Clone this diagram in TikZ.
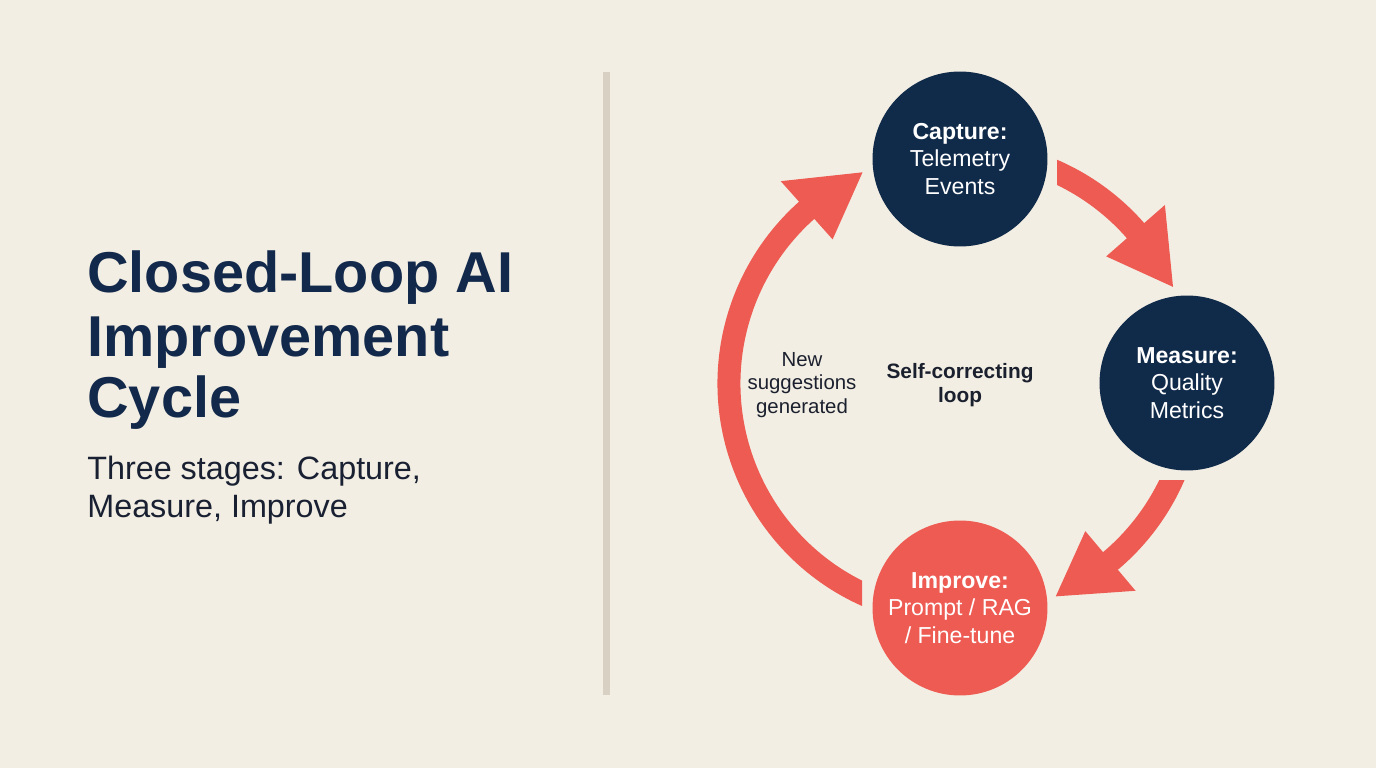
\documentclass[tikz,border=0pt]{standalone}
\usepackage{fontspec}
\setmainfont{Liberation Sans}
\usetikzlibrary{calc}
\definecolor{bgc}{RGB}{243,238,227}
\definecolor{navy}{RGB}{16,42,74}
\definecolor{titlec}{RGB}{19,41,75}
\definecolor{subc}{RGB}{24,32,50}
\definecolor{coral}{RGB}{237,91,83}
\definecolor{divc}{RGB}{216,208,194}
\definecolor{labc}{RGB}{27,32,46}
\tikzset{
  stage/.style={circle, minimum size=3.5cm, inner sep=0pt, align=center, text=white,
    font=\fontsize{13.15pt}{15.6pt}\selectfont},
  navystage/.style={stage, fill=navy},
  coralstage/.style={stage, fill=coral},
  band/.style={draw=coral, line width=0.46cm, line cap=butt},
  head/.style={fill=coral},
  titleline/.style={anchor=base west, inner sep=0pt, text=titlec, font=\fontsize{32.8pt}{37pt}\selectfont\bfseries},
  subline/.style={anchor=base west, inner sep=0pt, text=subc, font=\fontsize{18.4pt}{21pt}\selectfont},
}
\begin{document}
\begin{tikzpicture}[x=0.02cm,y=0.02cm]
\fill[bgc] (0,0) rectangle (1376,768);
\useasboundingbox (0,0) rectangle (1376,768);
% divider
\fill[divc] (603,73) rectangle (610,696);
% title
\node[titleline] (t1) at (87,475) {Closed-Loop AI};
\node[titleline] (t2) at (87,411) {Improvement};
\node[titleline] (t3) at (87,350) {Cycle};
\node[subline] (s1) at (87,288) {Three stages: Capture,};
\node[subline] (s2) at (87,251) {Measure, Improve};
% cycle
\coordinate (C) at (961,384.5);
\node[navystage] (cap) at (960,609) {\textbf{Capture:}\\Telemetry\\Events};
\node[navystage] (mea) at (1187,385) {\textbf{Measure:}\\Quality\\Metrics};
\node[coralstage] (imp) at (960,160) {\textbf{Improve:}\\Prompt / RAG\\/ Fine-tune};
% arrow capture -> measure
\begin{scope}
\clip (1057,0) rectangle (1376,768);
\draw[band] ($(C)+(72:232)$) arc[start angle=72, end angle=40, radius=232];
\end{scope}
\fill[head] ($(C)+(41.2:193)$) -- ($(C)+(24.5:233)$) -- ($(C)+(41.2:271)$) -- cycle;
% arrow measure -> improve
\begin{scope}
\clip (0,0) rectangle (1376,287);
\draw[band] ($(C)+(-16:232)$) arc[start angle=-16, end angle=-51, radius=232];
\end{scope}
\fill[head] ($(C)+(-49.9:193)$) -- ($(C)+(-66:233)$) -- ($(C)+(-49.9:271)$) -- cycle;
% arrow improve -> capture
\begin{scope}
\clip (0,0) rectangle (862,768);
\draw[band] ($(C)+(252:232)$) arc[start angle=252, end angle=130.5, radius=232];
\end{scope}
\fill[head] ($(C)+(131.7:193)$) -- ($(C)+(115:233)$) -- ($(C)+(131.7:271)$) -- cycle;
% center labels
\node[align=center, text=labc, font=\fontsize{11.6pt}{13.3pt}\selectfont] (new) at (802,383) {New\\suggestions\\generated};
\node[align=center, text=labc, font=\fontsize{11.85pt}{13.6pt}\selectfont\bfseries] (self) at (960,383) {Self-correcting\\loop};
\end{tikzpicture}
\end{document}
